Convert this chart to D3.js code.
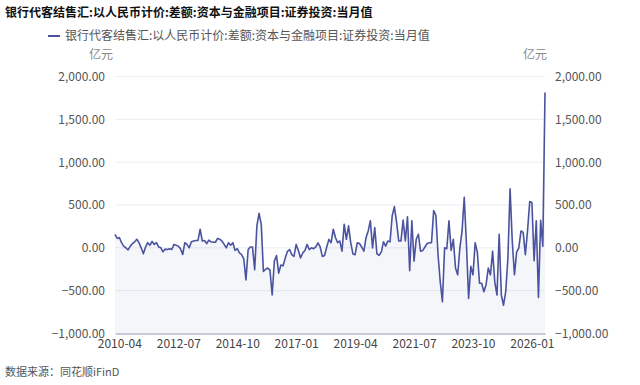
<!DOCTYPE html>
<html>
<head>
<meta charset="utf-8">
<script src="https://cdn.jsdelivr.net/npm/d3@7"></script>
<style>
  body { margin: 0; background: #fff; }
  svg { display: block; font-family: "Microsoft YaHei", "Noto Sans CJK SC", sans-serif; }
</style>
</head>
<body>
<div class="chart"></div>
<script>
const title = "银行代客结售汇:以人民币计价:差额:资本与金融项目:证券投资:当月值";
const unit = "亿元";
const source = "数据来源：同花顺iFinD";

// monthly, 2010-02 .. 2026-07
const startYear = 2010, startMonth = 2;
const values = [
    158, 110, 120, 60, 20, 0, -25, 20, 50, 70,
    100, 60, 0, -70, 10, 60, 30, 75, 40, 60,
    10, 0, -47, -15, -20, -10, -20, 40, 30, 20,
    -10, -78, 60, 40, 0, 70, 80, 85, 85, 217,
    80, 85, 50, 90, 70, 65, 65, 110, 100, 80,
    40, 0, 60, 30, 60, -30, -10, -60, -80, -130,
    -374, -20, 10, 10, -256, 257, 402, 277, -276, -250,
    -236, -260, -551, -157, -90, -295, -200, -210, -120, -40,
    -20, -80, -100, 40, -30, -118, -60, -30, 40, -20,
    0, -10, 10, 59, 10, -100, -90, 10, 99, 60,
    217, 120, 60, 80, -39, 276, 100, 257, 60, -71,
    -80, 60, 50, 10, -40, 118, 197, 316, 0, 237,
    -70, -87, -50, 70, 20, 80, 70, 375, 481, 300,
    79, 79, 324, 80, 363, -267, 316, -157, 100, 158,
    -40, -30, 10, 50, 59, 59, 434, 380, -78, -394,
    -630, 0, -10, 316, -30, 99, -236, -315, 0, 197,
    591, 50, -591, -217, -315, 59, -50, -414, -414, -512,
    -430, -236, -315, -39, -400, -551, 158, -551, -670, -512,
    -120, 690, 80, -315, -50, 0, 197, 180, -80, 200,
    540, 530, -150, 316, -580, 320, 20, 1813
];
const xTickLabels = ["2010-04", "2012-07", "2014-10", "2017-01", "2019-04", "2021-07", "2023-10", "2026-01"];
const yTicks = [-1000, -500, 0, 500, 1000, 1500, 2000];

const months = values.map((v, i) => {
    const m = startMonth - 1 + i;
    const yr = startYear + Math.floor(m / 12);
    const mo = (m % 12) + 1;
    return yr + "-" + String(mo).padStart(2, "0");
});
const data = months.map((m, i) => ({ month: m, value: values[i] }));

const width = 640, height = 385;
const margin = { top: 76.5, right: 95, bottom: 51.5, left: 115 };
const innerW = width - margin.left - margin.right;
const innerH = height - margin.top - margin.bottom;

const svg = d3.select(".chart")
    .append("svg")
    .attr("width", width)
    .attr("height", height);

svg.append("text")
    .attr("x", 5).attr("y", 17)
    .attr("font-size", 12).attr("font-weight", "bold")
    .attr("fill", "#111")
    .text(title);

// legend
svg.append("line")
    .attr("x1", 48).attr("x2", 60).attr("y1", 36).attr("y2", 36)
    .attr("stroke", "#4a539f").attr("stroke-width", 2);
svg.append("text")
    .attr("x", 65).attr("y", 40)
    .attr("font-size", 12).attr("fill", "#555")
    .text(title);

const g = svg.append("g")
    .attr("transform", "translate(" + margin.left + "," + margin.top + ")");

const x = d3.scalePoint()
    .domain(months)
    .range([0, innerW]);

const y = d3.scaleLinear()
    .domain([-1000, 2000])
    .range([innerH, 0]);

// gridlines
g.append("g")
    .selectAll("line")
    .data(yTicks.filter(d => d > -1000))
    .enter()
    .append("line")
    .attr("x1", 0).attr("x2", innerW)
    .attr("y1", d => y(d)).attr("y2", d => y(d))
    .attr("stroke", "#eceef4").attr("stroke-width", 1);

const fmt = d3.format(",.2f");

const yLeft = g.append("g")
    .call(d3.axisLeft(y).tickValues(yTicks).tickFormat(fmt).tickSize(0).tickPadding(10));
yLeft.select(".domain").remove();
const yRight = g.append("g")
    .attr("transform", "translate(" + innerW + ",0)")
    .call(d3.axisRight(y).tickValues(yTicks).tickFormat(fmt).tickSize(0).tickPadding(10));
yRight.select(".domain").remove();
g.selectAll(".tick text").attr("font-size", 12).attr("fill", "#555")
    .attr("font-family", "\"Microsoft YaHei\", \"Noto Sans CJK SC\", sans-serif");

g.append("text").attr("x", -2).attr("y", -18).attr("font-size", 12).attr("fill", "#888")
    .attr("text-anchor", "end").text(unit);
g.append("text").attr("x", innerW - 22).attr("y", -18).attr("font-size", 12).attr("fill", "#888")
    .text(unit);

// area and line
g.append("path")
    .datum(data)
    .attr("fill", "#5a64aa")
    .attr("fill-opacity", 0.06)
    .attr("d", d3.area()
        .x(d => x(d.month))
        .y0(innerH)
        .y1(d => y(d.value)));

g.append("path")
    .datum(data)
    .attr("fill", "none")
    .attr("stroke", "#4a539f")
    .attr("stroke-width", 1.6)
    .attr("stroke-linejoin", "round")
    .attr("d", d3.line()
        .x(d => x(d.month))
        .y(d => y(d.value)));

// x axis
const xAxis = g.append("g")
    .attr("transform", "translate(0," + innerH + ")")
    .call(d3.axisBottom(x).tickValues(xTickLabels).tickSize(0).tickPadding(6));
xAxis.select(".domain").attr("stroke", "#b3b8cc").attr("stroke-width", 1.5);
xAxis.selectAll("text").attr("font-size", 12).attr("fill", "#444")
    .attr("font-family", "\"Microsoft YaHei\", \"Noto Sans CJK SC\", sans-serif");

svg.append("text")
    .attr("x", 5).attr("y", 376)
    .attr("font-size", 11).attr("fill", "#555")
    .text(source);
</script>
</body>
</html>
